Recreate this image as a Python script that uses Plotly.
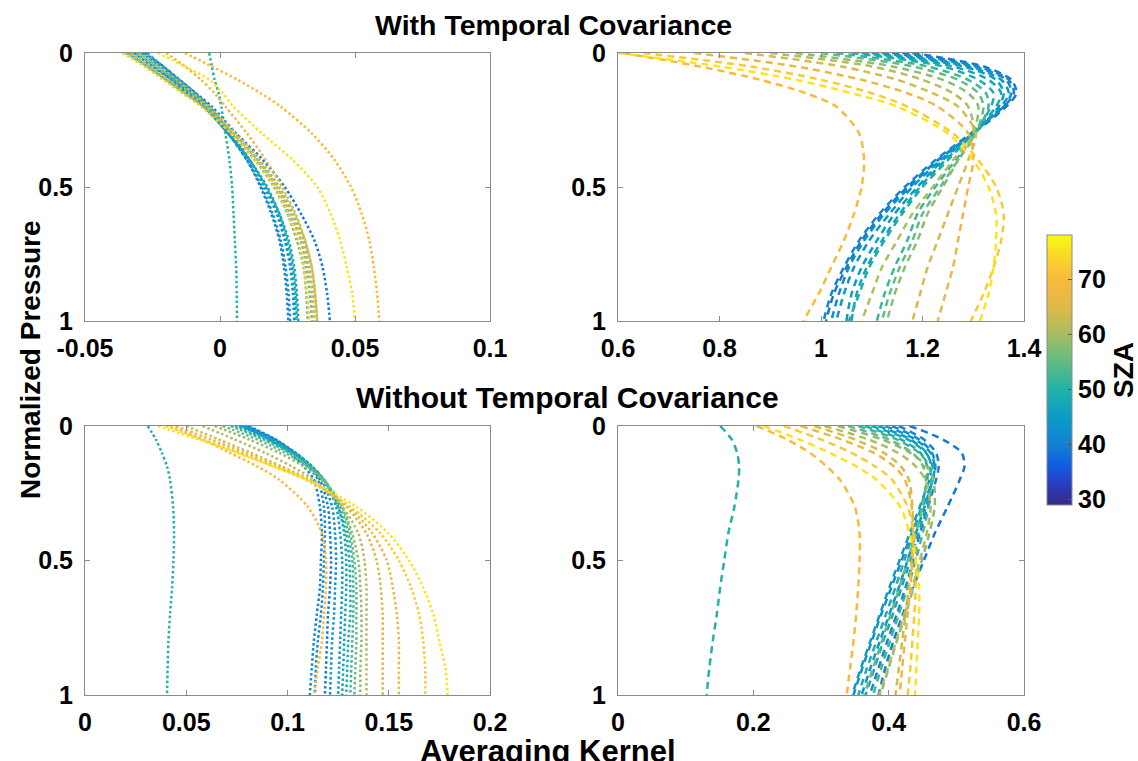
import plotly.graph_objects as go
from plotly.colors import sample_colorscale

# ---------------- data ----------------
levels = [0, 0.05, 0.1, 0.15, 0.2, 0.3, 0.4, 0.5, 0.6, 0.7, 0.8, 0.9, 1.0]
sza = [50, 39, 40.5, 42, 43.5, 45, 47, 49, 52, 55, 58, 61, 64, 67, 70, 72.5, 75.5]

# Top-left: with temporal covariance, dotted
tl = [
    [-0.004, -0.003, -0.002, -0.0005, 0.0005, 0.002, 0.0035, 0.0045, 0.005, 0.0055, 0.006, 0.0062, 0.0063],
    [-0.028, -0.021, -0.015, -0.009, -0.003, 0.006, 0.016, 0.024, 0.030, 0.035, 0.038, 0.0397, 0.0407],
    [-0.031, -0.024, -0.018, -0.012, -0.006, 0.003, 0.010, 0.015, 0.019, 0.022, 0.0237, 0.0247, 0.0253],
    [-0.030, -0.023, -0.017, -0.011, -0.005, 0.003, 0.010, 0.0155, 0.0195, 0.0225, 0.0243, 0.0254, 0.026],
    [-0.032, -0.025, -0.018, -0.012, -0.006, 0.003, 0.011, 0.0165, 0.021, 0.024, 0.026, 0.027, 0.0275],
    [-0.029, -0.022, -0.016, -0.010, -0.004, 0.004, 0.011, 0.017, 0.0215, 0.0245, 0.0265, 0.0275, 0.028],
    [-0.033, -0.026, -0.019, -0.012, -0.006, 0.003, 0.011, 0.0175, 0.022, 0.0255, 0.0275, 0.0285, 0.029],
    [-0.027, -0.021, -0.015, -0.009, -0.004, 0.004, 0.011, 0.017, 0.022, 0.025, 0.027, 0.028, 0.0285],
    [-0.034, -0.027, -0.020, -0.013, -0.006, 0.004, 0.013, 0.020, 0.025, 0.0285, 0.031, 0.032, 0.0325],
    [-0.031, -0.024, -0.017, -0.011, -0.005, 0.005, 0.014, 0.021, 0.026, 0.030, 0.032, 0.0333, 0.034],
    [-0.035, -0.027, -0.020, -0.013, -0.006, 0.005, 0.014, 0.0215, 0.027, 0.031, 0.033, 0.0343, 0.035],
    [-0.030, -0.023, -0.016, -0.010, -0.004, 0.006, 0.015, 0.022, 0.0275, 0.0315, 0.034, 0.0353, 0.036],
    [-0.033, -0.026, -0.019, -0.012, -0.005, 0.005, 0.014, 0.021, 0.026, 0.030, 0.0325, 0.034, 0.0345],
    [-0.020, -0.013, -0.007, -0.002, 0.002, 0.010, 0.017, 0.023, 0.028, 0.0315, 0.034, 0.0352, 0.036],
    [-0.013, -0.003, 0.0065, 0.015, 0.0225, 0.034, 0.0425, 0.0485, 0.0525, 0.0553, 0.057, 0.0582, 0.059],
    [-0.036, -0.028, -0.021, -0.014, -0.007, 0.004, 0.013, 0.020, 0.025, 0.029, 0.031, 0.0322, 0.033],
    [-0.023, -0.013, -0.004, 0.001, 0.005, 0.0155, 0.027, 0.036, 0.041, 0.0445, 0.047, 0.049, 0.050],
]

# Top-right: with temporal covariance, dashed
tr = [
    [0.30, 0.35, 0.38, 0.40, 0.41, 0.42, 0.42, 0.41, 0.40, 0.39, 0.38, 0.37, 0.36],
    [1.18, 1.32, 1.375, 1.385, 1.365, 1.30, 1.23, 1.17, 1.12, 1.08, 1.05, 1.025, 1.01],
    [1.16, 1.31, 1.37, 1.38, 1.36, 1.295, 1.225, 1.165, 1.115, 1.075, 1.045, 1.02, 1.005],
    [1.14, 1.30, 1.365, 1.375, 1.36, 1.30, 1.23, 1.175, 1.125, 1.085, 1.055, 1.035, 1.02],
    [1.12, 1.29, 1.355, 1.37, 1.355, 1.30, 1.235, 1.18, 1.135, 1.095, 1.065, 1.045, 1.03],
    [1.10, 1.28, 1.345, 1.36, 1.35, 1.30, 1.24, 1.19, 1.145, 1.11, 1.08, 1.06, 1.05],
    [1.08, 1.26, 1.33, 1.355, 1.345, 1.30, 1.245, 1.195, 1.155, 1.12, 1.09, 1.07, 1.06],
    [1.06, 1.24, 1.31, 1.34, 1.335, 1.30, 1.25, 1.20, 1.16, 1.125, 1.095, 1.075, 1.055],
    [1.03, 1.21, 1.29, 1.325, 1.33, 1.305, 1.265, 1.225, 1.19, 1.17, 1.145, 1.125, 1.11],
    [1.00, 1.18, 1.27, 1.31, 1.32, 1.305, 1.27, 1.235, 1.20, 1.18, 1.155, 1.135, 1.12],
    [0.95, 1.14, 1.24, 1.29, 1.31, 1.30, 1.27, 1.24, 1.21, 1.19, 1.165, 1.145, 1.13],
    [0.90, 1.10, 1.20, 1.26, 1.29, 1.30, 1.26, 1.22, 1.18, 1.15, 1.12, 1.10, 1.08],
    [0.85, 1.04, 1.15, 1.22, 1.27, 1.305, 1.29, 1.27, 1.25, 1.23, 1.21, 1.195, 1.18],
    [0.75, 0.95, 1.08, 1.17, 1.23, 1.29, 1.30, 1.29, 1.28, 1.27, 1.26, 1.245, 1.23],
    [0.61, 0.76, 0.88, 0.97, 1.03, 1.075, 1.085, 1.08, 1.065, 1.045, 1.02, 0.995, 0.965],
    [0.65, 0.86, 1.00, 1.10, 1.17, 1.26, 1.31, 1.345, 1.36, 1.355, 1.34, 1.32, 1.295],
    [0.60, 0.80, 0.95, 1.06, 1.15, 1.25, 1.30, 1.33, 1.345, 1.345, 1.34, 1.33, 1.313],
]

# Bottom-left: without temporal covariance, dotted
bl = [
    [0.031, 0.035, 0.038, 0.0405, 0.042, 0.0435, 0.044, 0.0437, 0.043, 0.042, 0.0412, 0.0408, 0.0405],
    [0.080, 0.094, 0.104, 0.111, 0.116, 0.120, 0.121, 0.1215, 0.121, 0.120, 0.1195, 0.119, 0.1185],
    [0.078, 0.091, 0.101, 0.108, 0.113, 0.116, 0.117, 0.1165, 0.116, 0.1145, 0.113, 0.112, 0.111],
    [0.081, 0.094, 0.103, 0.110, 0.115, 0.118, 0.1185, 0.118, 0.1175, 0.1165, 0.115, 0.114, 0.1135],
    [0.079, 0.093, 0.104, 0.112, 0.117, 0.122, 0.1235, 0.124, 0.1235, 0.123, 0.122, 0.1215, 0.121],
    [0.077, 0.092, 0.104, 0.112, 0.118, 0.124, 0.126, 0.127, 0.127, 0.1265, 0.126, 0.1255, 0.125],
    [0.076, 0.091, 0.103, 0.112, 0.118, 0.125, 0.128, 0.129, 0.129, 0.1285, 0.128, 0.1275, 0.127],
    [0.074, 0.089, 0.102, 0.111, 0.118, 0.125, 0.129, 0.1305, 0.131, 0.131, 0.130, 0.1295, 0.129],
    [0.072, 0.088, 0.101, 0.111, 0.118, 0.126, 0.130, 0.132, 0.1325, 0.1325, 0.132, 0.1315, 0.131],
    [0.068, 0.085, 0.099, 0.110, 0.118, 0.127, 0.131, 0.133, 0.134, 0.134, 0.134, 0.1335, 0.133],
    [0.064, 0.081, 0.096, 0.108, 0.117, 0.127, 0.132, 0.135, 0.136, 0.1365, 0.1365, 0.136, 0.136],
    [0.058, 0.074, 0.089, 0.102, 0.113, 0.127, 0.135, 0.138, 0.139, 0.139, 0.139, 0.139, 0.139],
    [0.050, 0.066, 0.082, 0.097, 0.111, 0.129, 0.139, 0.144, 0.146, 0.147, 0.147, 0.147, 0.147],
    [0.045, 0.062, 0.079, 0.095, 0.110, 0.130, 0.142, 0.149, 0.152, 0.154, 0.155, 0.155, 0.155],
    [0.042, 0.058, 0.0716, 0.085, 0.096, 0.110, 0.117, 0.119, 0.119, 0.118, 0.117, 0.115, 0.113],
    [0.040, 0.058, 0.076, 0.093, 0.109, 0.131, 0.146, 0.155, 0.161, 0.165, 0.167, 0.168, 0.168],
    [0.036, 0.056, 0.075, 0.093, 0.110, 0.134, 0.150, 0.160, 0.167, 0.172, 0.175, 0.178, 0.179],
]

# Bottom-right: without temporal covariance, dashed
br = [
    [0.151, 0.168, 0.176, 0.179, 0.178, 0.172, 0.163, 0.157, 0.151, 0.146, 0.140, 0.135, 0.131],
    [0.431, 0.480, 0.508, 0.512, 0.505, 0.487, 0.468, 0.452, 0.436, 0.421, 0.407, 0.395, 0.385],
    [0.415, 0.452, 0.470, 0.474, 0.470, 0.458, 0.446, 0.436, 0.425, 0.412, 0.398, 0.385, 0.372],
    [0.405, 0.445, 0.464, 0.469, 0.465, 0.450, 0.434, 0.419, 0.404, 0.389, 0.375, 0.361, 0.348],
    [0.395, 0.440, 0.462, 0.468, 0.465, 0.453, 0.440, 0.428, 0.415, 0.401, 0.387, 0.373, 0.360],
    [0.385, 0.432, 0.456, 0.463, 0.460, 0.446, 0.431, 0.416, 0.401, 0.387, 0.373, 0.359, 0.346],
    [0.375, 0.428, 0.455, 0.465, 0.464, 0.455, 0.444, 0.432, 0.419, 0.406, 0.392, 0.379, 0.366],
    [0.365, 0.418, 0.447, 0.457, 0.457, 0.448, 0.436, 0.423, 0.410, 0.396, 0.382, 0.368, 0.355],
    [0.355, 0.412, 0.445, 0.460, 0.463, 0.459, 0.450, 0.440, 0.428, 0.415, 0.402, 0.389, 0.377],
    [0.340, 0.400, 0.435, 0.451, 0.455, 0.450, 0.440, 0.428, 0.416, 0.403, 0.390, 0.377, 0.364],
    [0.325, 0.390, 0.432, 0.456, 0.466, 0.468, 0.460, 0.449, 0.437, 0.425, 0.412, 0.400, 0.388],
    [0.305, 0.370, 0.414, 0.440, 0.454, 0.462, 0.456, 0.446, 0.435, 0.423, 0.411, 0.399, 0.386],
    [0.290, 0.350, 0.393, 0.418, 0.430, 0.435, 0.436, 0.434, 0.430, 0.425, 0.420, 0.415, 0.410],
    [0.270, 0.330, 0.378, 0.408, 0.424, 0.434, 0.436, 0.435, 0.432, 0.428, 0.424, 0.420, 0.416],
    [0.205, 0.250, 0.284, 0.308, 0.328, 0.350, 0.357, 0.357, 0.355, 0.352, 0.348, 0.343, 0.338],
    [0.245, 0.300, 0.345, 0.380, 0.405, 0.428, 0.437, 0.440, 0.440, 0.438, 0.435, 0.432, 0.428],
    [0.215, 0.268, 0.313, 0.352, 0.382, 0.417, 0.431, 0.440, 0.445, 0.445, 0.443, 0.441, 0.439],
]

tl_ticks = [-0.05, 0, 0.05, 0.1]
tl_text = ["-0.05", "0", "0.05", "0.1"]
tr_ticks = [0.6, 0.8, 1.0, 1.2, 1.4]
tr_text = ["0.6", "0.8", "1", "1.2", "1.4"]
bl_ticks = [0, 0.05, 0.1, 0.15, 0.2]
bl_text = ["0", "0.05", "0.1", "0.15", "0.2"]
br_ticks = [0, 0.2, 0.4, 0.6]
br_text = ["0", "0.2", "0.4", "0.6"]
y_ticks = [0, 0.5, 1]
y_text = ["0", "0.5", "1"]
cb_ticks = [30, 40, 50, 60, 70]

# ---------------- style ----------------
parula = [
    [0.00, "rgb(53,42,135)"], [0.08, "rgb(40,62,195)"], [0.15, "rgb(15,95,225)"],
    [0.22, "rgb(20,128,212)"], [0.32, "rgb(10,155,200)"], [0.43, "rgb(35,178,165)"],
    [0.53, "rgb(95,188,130)"], [0.63, "rgb(165,190,100)"], [0.73, "rgb(222,185,72)"],
    [0.84, "rgb(250,186,58)"], [0.92, "rgb(250,215,40)"], [1.00, "rgb(249,251,14)"],
]
CMIN, CMAX = 29, 78
W, H = 1138, 761
FONT = "Liberation Sans, Arial, Helvetica, sans-serif"
TICK_SIZE = 25
LABEL_SIZE = 28


def colour(v):
    return sample_colorscale(parula, [(v - CMIN) / (CMAX - CMIN)])[0]


fig = go.Figure()

panels = [
    ("x", "y", tl, "2.5px,2.5px", 2.5),
    ("x2", "y2", tr, "7px,5px", 2.5),
    ("x3", "y3", bl, "2.5px,2.5px", 2.5),
    ("x4", "y4", br, "7px,5px", 2.5),
]
for xa, ya, data, dash, w in panels:
    for s, prof in zip(sza, data):
        fig.add_trace(go.Scatter(
            x=prof, y=levels, xaxis=xa, yaxis=ya, mode="lines",
            line=dict(color=colour(s), dash=dash, width=w, shape="spline", smoothing=0.8),
            showlegend=False, hoverinfo="skip",
        ))

# colour bar carrier
fig.add_trace(go.Scatter(
    x=[None], y=[None], mode="markers", showlegend=False,
    marker=dict(color=[CMIN], colorscale=parula, cmin=CMIN, cmax=CMAX, showscale=True,
                colorbar=dict(
                    x=1047 / W, xanchor="left", y=1 - 370 / H, yanchor="middle",
                    xpad=0, ypad=0,
                    thickness=25, thicknessmode="pixels", len=270, lenmode="pixels",
                    outlinecolor="#8a8a8a", outlinewidth=1,
                    tickvals=cb_ticks, ticks="inside", ticklen=4, tickcolor="#555",
                    tickfont=dict(size=TICK_SIZE, family=FONT, color="black", weight="bold"),
                    title=dict(text="SZA", side="right",
                               font=dict(size=LABEL_SIZE, family=FONT, color="black", weight="bold")),
                )),
))


def px_x(a, b):
    return [a / W, b / W]


def px_y(top, bottom):
    return [1 - bottom / H, 1 - top / H]


axis_common = dict(
    showline=True, linecolor="#8a8a8a", linewidth=1, mirror="ticks", automargin=False,
    ticks="inside", ticklen=5, tickcolor="#8a8a8a", showgrid=False, zeroline=False,
    tickfont=dict(size=TICK_SIZE, family=FONT, color="black", weight="bold"),
)

doms = {
    "": (px_x(85, 490), px_y(53, 321), tl_ticks, tl_text, [-0.05, 0.1]),
    "2": (px_x(618, 1024), px_y(53, 321), tr_ticks, tr_text, [0.6, 1.4]),
    "3": (px_x(85, 490), px_y(426, 695), bl_ticks, bl_text, [0, 0.2]),
    "4": (px_x(618, 1024), px_y(426, 695), br_ticks, br_text, [0, 0.6]),
}
layout_axes = {}
for k, (dx, dy, tv, tt, rng) in doms.items():
    layout_axes["xaxis" + k] = dict(axis_common, domain=dx, range=rng, tickvals=tv, ticktext=tt,
                                    anchor="y" + k, ticklabelstandoff=5)
    layout_axes["yaxis" + k] = dict(axis_common, domain=dy, range=[1, 0], tickvals=y_ticks,
                                    ticktext=y_text, anchor="x" + k, ticklabelstandoff=6)

fig.update_layout(
    width=W, height=H, margin=dict(l=0, r=0, t=0, b=0, autoexpand=False),
    paper_bgcolor="white", plot_bgcolor="white",
    font=dict(family=FONT, size=TICK_SIZE, color="black", weight="bold"),
    **layout_axes,
)

ann = [
    dict(text="With Temporal Covariance", x=553 / W, y=1 - 25 / H, size=28.5, angle=0),
    dict(text="Without Temporal Covariance", x=567 / W, y=1 - 397 / H, size=30, angle=0),
    dict(text="Averaging Kernel", x=548 / W, y=1 - 751 / H, size=31, angle=0),
    dict(text="Normalized Pressure", x=30 / W, y=1 - 360 / H, size=28, angle=-90),
]
for a in ann:
    fig.add_annotation(text=a["text"], x=a["x"], y=a["y"], xref="paper", yref="paper",
                       xanchor="center", yanchor="middle", showarrow=False, textangle=a["angle"],
                       font=dict(size=a["size"], family=FONT, color="black", weight="bold"))

fig.write_html("out.html")
